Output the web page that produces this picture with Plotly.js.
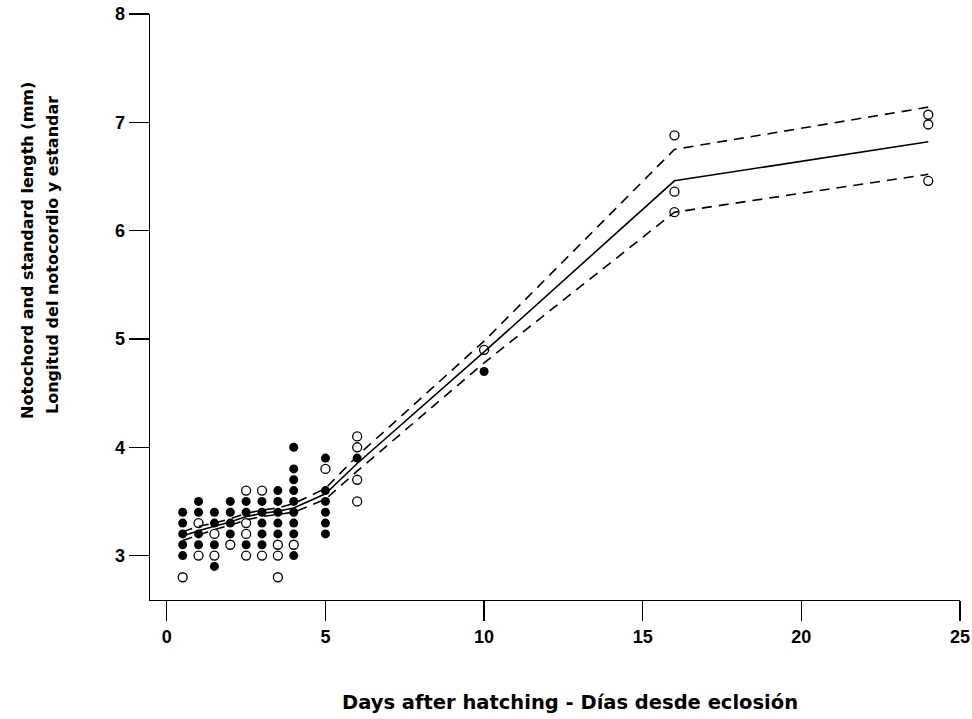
<!DOCTYPE html>
<html>
<head>
<meta charset="utf-8">
<script src="https://cdn.plot.ly/plotly-3.0.1.min.js"></script>
<style>
  html, body { margin: 0; padding: 0; background: #fff; }
  #chart { width: 972px; height: 719px; }
</style>
</head>
<body>
<div id="chart"></div>
<script>
// Individual larvae: filled = one group, open = the other
const filledDays = [0.5,0.5,0.5,0.5,0.5, 1,1,1,1, 1.5,1.5,1.5,1.5, 2,2,2,2, 2.5,2.5,2.5,
  3,3,3,3,3, 3.5,3.5,3.5,3.5,3.5, 4,4,4,4,4,4,4,4,4, 5,5,5,5,5,5, 6, 10];
const filledLength = [3.4,3.3,3.2,3.1,3.0, 3.5,3.4,3.2,3.1, 3.4,3.3,3.1,2.9, 3.5,3.4,3.3,3.2, 3.5,3.4,3.1,
  3.5,3.4,3.3,3.2,3.1, 3.6,3.5,3.4,3.3,3.2, 4.0,3.8,3.7,3.6,3.5,3.4,3.3,3.2,3.0, 3.9,3.6,3.5,3.4,3.3,3.2, 3.9, 4.7];

const openDays = [0.5, 1,1, 1.5,1.5, 2, 2.5,2.5,2.5,2.5, 3,3, 3.5,3.5,3.5, 4, 5, 6,6,6,6, 10, 16,16,16, 24,24,24];
const openLength = [2.8, 3.3,3.0, 3.2,3.0, 3.1, 3.6,3.3,3.2,3.0, 3.6,3.0, 3.1,3.0,2.8, 3.1, 3.8, 4.1,4.0,3.7,3.5, 4.9, 6.88,6.36,6.17, 7.07,6.98,6.46];

// Fitted growth curve with upper and lower confidence limits
const fitDays  = [0.5, 1, 1.5, 2, 2.5, 3, 3.5, 4, 5, 6, 10, 16, 24];
const fitMean  = [3.18, 3.23, 3.27, 3.31, 3.36, 3.39, 3.41, 3.44, 3.57, 3.85, 4.88, 6.46, 6.82];
const fitUpper = [3.22, 3.27, 3.30, 3.34, 3.39, 3.42, 3.44, 3.48, 3.62, 3.92, 4.98, 6.75, 7.14];
const fitLower = [3.14, 3.19, 3.24, 3.28, 3.33, 3.36, 3.38, 3.40, 3.52, 3.78, 4.78, 6.17, 6.52];

const xTicks = [0, 5, 10, 15, 20, 25];
const yTicks = [3, 4, 5, 6, 7, 8];

const TICK_FONT = 'Liberation Sans, Arial, sans-serif';
const TITLE_FONT = 'DejaVu Sans, Verdana, sans-serif';

const traces = [
  { x: fitDays, y: fitUpper, type: 'scatter', mode: 'lines',
    line: { color: '#000', width: 1.6, dash: '10px,7px' }, hoverinfo: 'skip' },
  { x: fitDays, y: fitLower, type: 'scatter', mode: 'lines',
    line: { color: '#000', width: 1.6, dash: '10px,7px' }, hoverinfo: 'skip' },
  { x: fitDays, y: fitMean, type: 'scatter', mode: 'lines',
    line: { color: '#000', width: 1.6 } },
  { x: filledDays, y: filledLength, type: 'scatter', mode: 'markers',
    marker: { symbol: 'circle', size: 9, color: '#000' } },
  { x: openDays, y: openLength, type: 'scatter', mode: 'markers',
    marker: { symbol: 'circle-open', size: 9, color: '#000', line: { width: 1.3, color: '#000' } } }
];

const tickFont = { family: TICK_FONT, size: 18, color: '#000', weight: 'bold' };

const layout = {
  width: 972, height: 719,
  margin: { l: 150, r: 12, t: 14, b: 119 },
  paper_bgcolor: '#fff', plot_bgcolor: '#fff',
  showlegend: false,
  xaxis: {
    range: [-0.53, 25], tickvals: xTicks, ticktext: xTicks.map(String),
    showgrid: false, zeroline: false, showline: true, linecolor: '#000', linewidth: 1.3,
    ticks: 'outside', ticklen: 20, tickwidth: 1.3, tickcolor: '#000',
    tickfont: tickFont, title: { text: '' }
  },
  yaxis: {
    range: [2.59, 8], tickvals: yTicks, ticktext: yTicks.map(String),
    showgrid: false, zeroline: false, showline: true, linecolor: '#000', linewidth: 1.3,
    ticks: 'outside', ticklen: 20, tickwidth: 1.3, tickcolor: '#000',
    tickfont: tickFont, tickangle: 0, title: { text: '' }
  },
  annotations: [
    { text: 'Days after hatching - Días desde eclosión', showarrow: false,
      font: { family: TITLE_FONT, size: 19.5, color: '#000', weight: 'bold' } },
    { text: 'Notochord and standard length (mm)', showarrow: false, textangle: -90,
      font: { family: TITLE_FONT, size: 16, color: '#000', weight: 'bold' } },
    { text: 'Longitud del notocordio y estandar', showarrow: false, textangle: -90,
      font: { family: TITLE_FONT, size: 16, color: '#000', weight: 'bold' } }
  ]
};

// Place the axis titles in pixel terms relative to the paper
function px(xPix, yPix) {
  const W = 972 - 150 - 12, H = 719 - 14 - 119;
  return { x: (xPix - 150) / W, y: 1 - (yPix - 14) / H };
}
const anchors = [px(570, 702), px(27, 251), px(52, 255)];
anchors.forEach((p, i) => {
  const a = layout.annotations[i];
  a.xref = 'paper'; a.yref = 'paper';
  a.x = p.x; a.y = p.y;
  a.xanchor = 'center'; a.yanchor = 'middle';
});

Plotly.newPlot('chart', traces, layout, { displayModeBar: false, staticPlot: true });
</script>
</body>
</html>
